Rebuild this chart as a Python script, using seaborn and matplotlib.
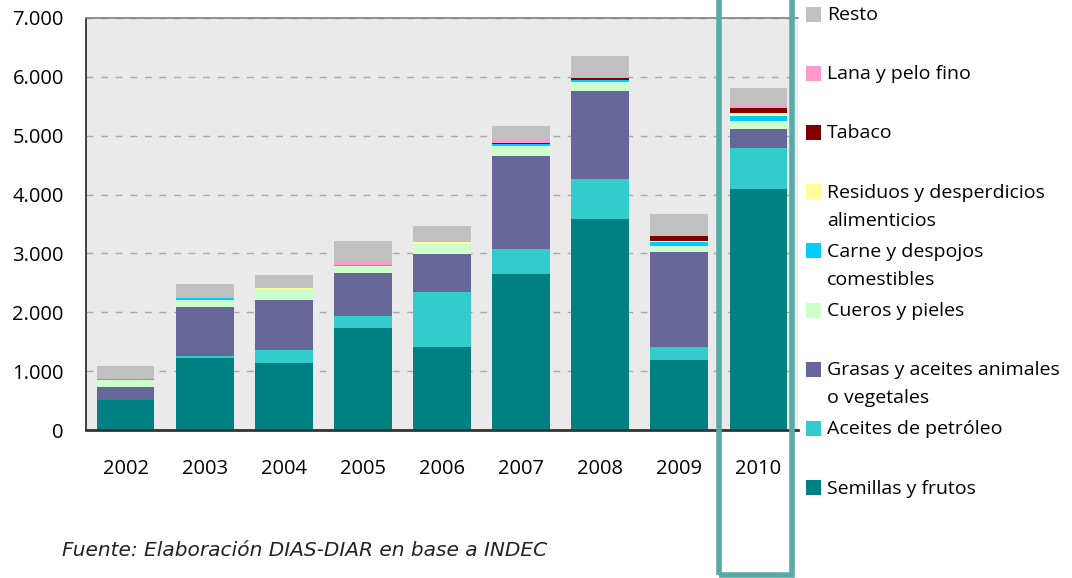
import matplotlib
matplotlib.use("Agg")
import matplotlib.pyplot as plt
import matplotlib.ticker as mticker
from matplotlib.patches import Rectangle
import seaborn as sns
import pandas as pd
import numpy as np

# values (millions of US$)
years = ["2002", "2003", "2004", "2005", "2006", "2007", "2008", "2009", "2010"]
semillas = [510, 1223, 1138, 1733, 1410, 2650, 3585, 1189, 4094]
aceites_petroleo = [5, 34, 221, 204, 934, 425, 680, 221, 697]
grasas = [221, 832, 850, 730, 645, 1580, 1495, 1614, 323]
cueros = [119, 119, 187, 124, 170, 170, 153, 102, 136]
carne = [12, 34, 0, 15, 0, 40, 34, 68, 85]
residuos = [0, 0, 17, 0, 34, 0, 0, 17, 51]
tabaco = [0, 0, 0, 0, 0, 15, 40, 80, 85]
lana = [0, 0, 0, 60, 0, 57, 0, 10, 40]
resto = [226, 238, 221, 340, 272, 226, 368, 368, 300]

# bottom to top
series = [
    ("Semillas y frutos", semillas, "#008080"),
    ("Aceites de petróleo", aceites_petroleo, "#33CCCC"),
    ("Grasas y aceites animales\no vegetales", grasas, "#666699"),
    ("Cueros y pieles", cueros, "#CCFFCC"),
    ("Carne y despojos\ncomestibles", carne, "#00CCFF"),
    ("Residuos y desperdicios\nalimenticios", residuos, "#FFFF99"),
    ("Tabaco", tabaco, "#800000"),
    ("Lana y pelo fino", lana, "#FF99CC"),
    ("Resto", resto, "#C0C0C0"),
]

W, H = 1072, 578
sns.set_style("white")
plt.rcParams["font.family"] = ["Open Sans", "DejaVu Sans"]
plt.rcParams["text.color"] = "black"

df = pd.DataFrame({name: vals for name, vals, _ in series}, index=years)
cum = df.cumsum(axis=1)

fig = plt.figure(figsize=(W / 100, H / 100), dpi=100)
ax = fig.add_axes([86 / W, 1 - 430 / H, (798 - 86) / W, (430 - 18) / H])
ax.set_facecolor("#EAEAEA")

# draw cumulative totals from top layer down so lower layers cover upper ones
for name, _, color in reversed(series):
    sns.barplot(x=years, y=cum[name].values, color=color, saturation=1,
                width=0.73, linewidth=0, edgecolor="none", ax=ax, zorder=2)

ax.set_ylim(0, 7000)
ax.set_xlim(-0.5, len(years) - 0.5)
ax.yaxis.set_major_locator(mticker.MultipleLocator(1000))
ax.yaxis.set_major_formatter(mticker.FuncFormatter(lambda v, p: f"{int(v):,}".replace(",", ".")))
ax.set_axisbelow(True)
ax.yaxis.grid(True, linestyle=(0, (5, 5.5)), linewidth=1, color="#A8A8A8")
ax.xaxis.grid(False)
ax.set_xlabel("")
ax.set_ylabel("")

ax.xaxis.set_minor_locator(mticker.FixedLocator(np.arange(-0.5, len(years), 1)))
ax.tick_params(axis="x", which="major", length=0, pad=21, labelsize=14.5, labelcolor="black")
ax.tick_params(axis="x", which="minor", length=6, width=1.3, color="#222222", direction="out")
ax.tick_params(axis="y", which="major", length=6, width=1.3, color="#222222", direction="out",
               pad=10, labelsize=14.5, labelcolor="black")

for s in ["left", "bottom"]:
    ax.spines[s].set_color("#333333")
ax.spines["left"].set_linewidth(1.3)
ax.spines["bottom"].set_linewidth(2)
ax.spines["top"].set_color("#808080")
ax.spines["top"].set_linewidth(1.2)
ax.spines["right"].set_visible(False)

# legend on the right, aligned to the 1000 grid spacing
y0, step = 14, 59.2
for i, (name, _, color) in enumerate(reversed(series)):
    yc = y0 + i * step
    fig.add_artist(Rectangle((806 / W, 1 - (yc + 7.5) / H), 15 / W, 15 / H,
                             transform=fig.transFigure, color=color, lw=0))
    for j, line in enumerate(name.split("\n")):
        fig.text(827 / W, 1 - (yc + 1 + j * 28) / H, line, fontsize=14,
                 va="center", ha="left", color="black")

# highlight around 2010
fig.add_artist(Rectangle((718.5 / W, 1 - 575 / H), 73 / W, 600 / H,
                         transform=fig.transFigure, fill=False,
                         edgecolor="#58AAA6", lw=4, clip_on=False))

fig.text(62 / W, 1 - 551 / H, "Fuente: Elaboración DIAS-DIAR en base a INDEC",
         fontsize=14.5, style="italic", family=["DejaVu Sans"], color="#222222",
         va="center", ha="left")

fig.savefig("out.png", dpi=100)
